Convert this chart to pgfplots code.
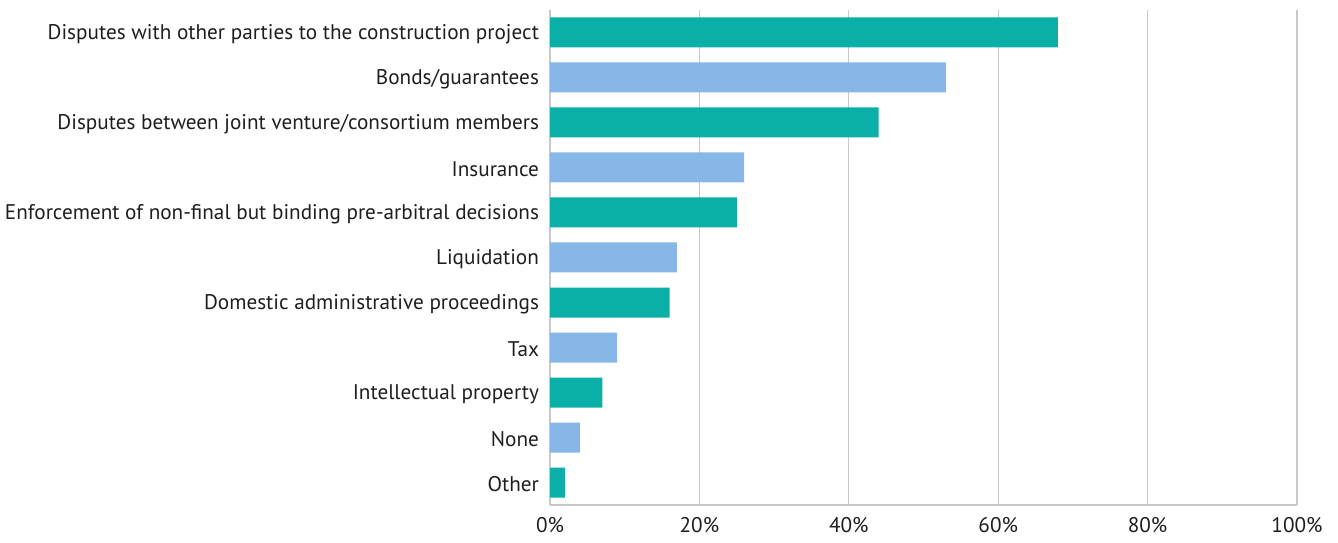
\documentclass[border=0pt]{standalone}
\usepackage{pgfplots}
\pgfplotsset{compat=1.18}
\usepackage{fontspec}
\setmainfont{PT Sans}
\definecolor{teal1}{RGB}{10,175,168}
\definecolor{blue1}{RGB}{134,183,230}
\definecolor{gridc}{RGB}{200,200,200}
\definecolor{txt}{RGB}{30,30,30}
\begin{document}
\begin{tikzpicture}
\useasboundingbox (0,0) rectangle (669pt,271pt);
\begin{axis}[
  at={(275pt,18.5pt)}, anchor=south west,
  scale only axis, width=373.5pt, height=247.5pt,
  xbar, bar width=15pt, bar shift=0pt,
  xmin=0, xmax=100, ymin=-0.5, ymax=10.5,
  xtick={0,20,40,60,80,100},
  xticklabel={\pgfmathprintnumber{\tick}\%},
  /pgf/number format/assume math mode=true,
  ytick={0,...,10},
  yticklabels={Other,None,Intellectual property,Tax,Domestic administrative proceedings,Liquidation,Enforcement of non-final but binding pre-arbitral decisions,Insurance,Disputes between joint venture/consortium members,Bonds/guarantees,Disputes with other parties to the construction project},
  xmajorgrids, grid style={gridc, line width=0.6pt},
  axis line style={gridc, line width=0.6pt},
  axis x line*=bottom, axis y line*=left,
  tick style={draw=none},
  major tick length=0pt,
  tick label style={font=\fontsize{10.6pt}{12pt}\selectfont, text=txt},
  yticklabel style={xshift=-2pt, yshift=-1pt},
  xticklabel style={yshift=-2.5pt},
]
\addplot[fill=teal1, draw=none] coordinates {(68,10) (44,8) (25,6) (16,4) (7,2) (2,0)};
\addplot[fill=blue1, draw=none] coordinates {(53,9) (26,7) (17,5) (9,3) (4,1)};
\end{axis}
\end{tikzpicture}
\end{document}
